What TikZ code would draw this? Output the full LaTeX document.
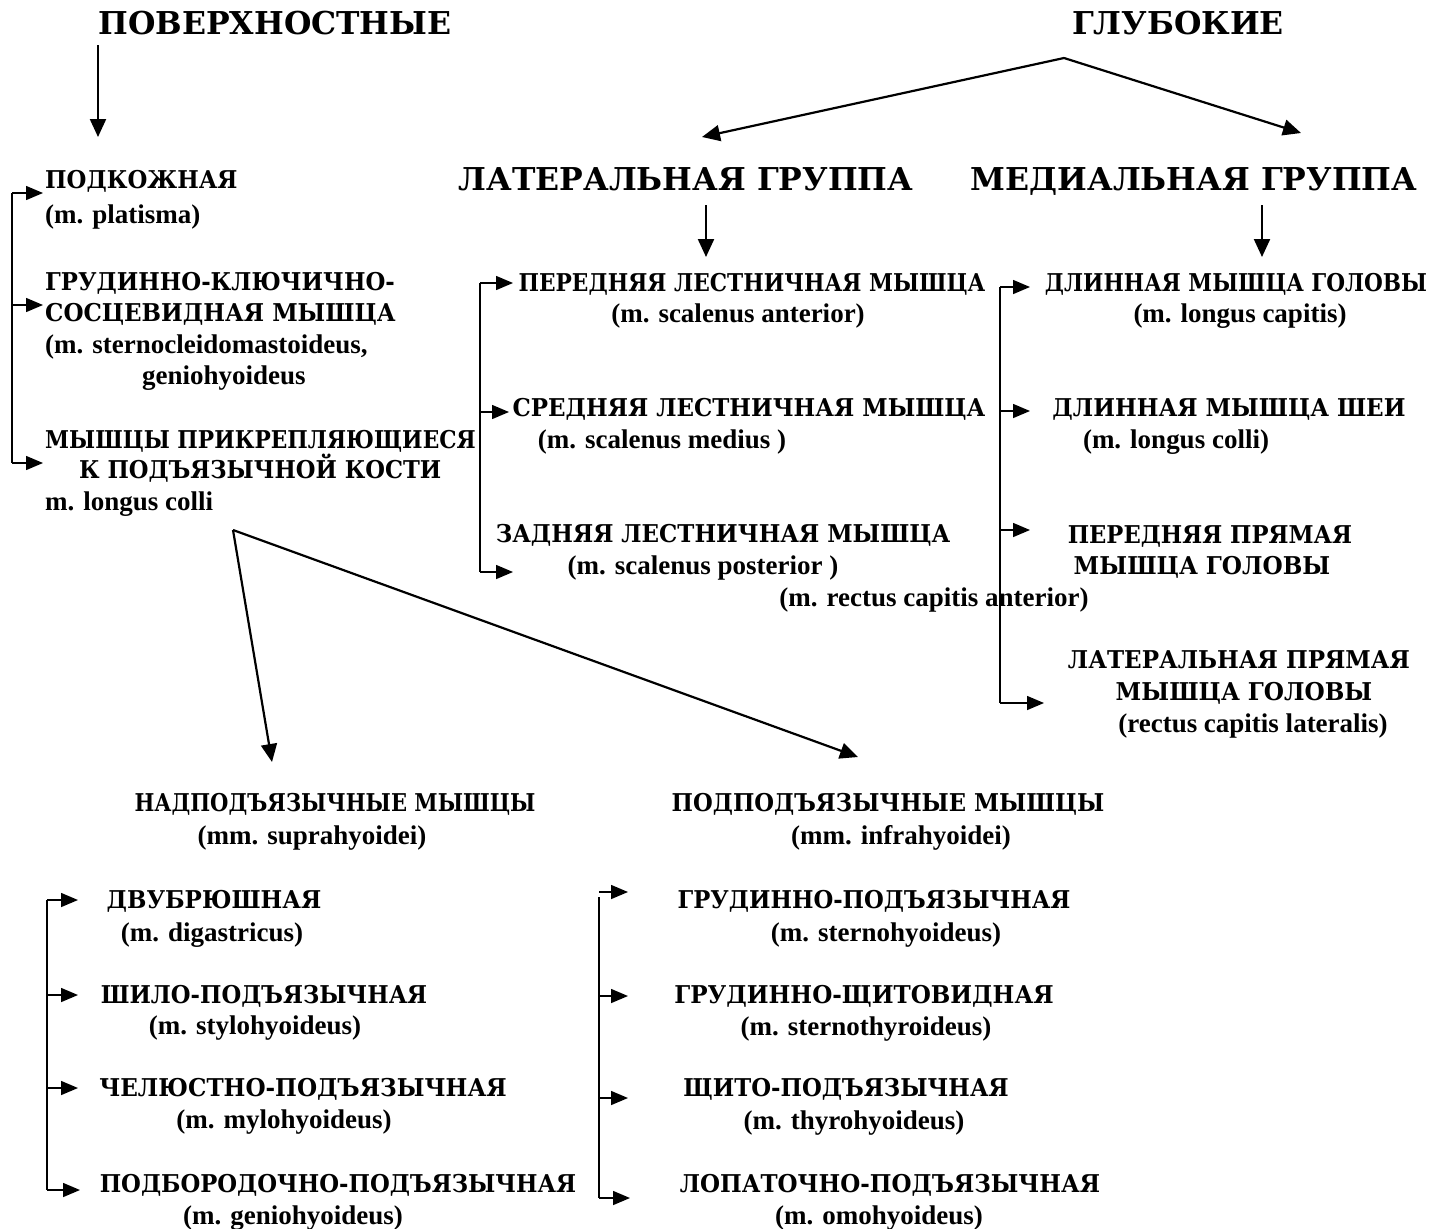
\documentclass[tikz,border=0pt]{standalone}
\usepackage{graphicx}
\usepackage{fontspec}
\setmainfont{Liberation Serif}
\newfontfamily\cyrf{DejaVu Serif}
\usetikzlibrary{arrows.meta}
% Cyrillic lines: taller letters, slightly condensed
\newcommand\cyt[2][0.93]{\scalebox{#1}[1]{#2}}

\begin{document}
\begin{tikzpicture}[x=1pt,y=-1pt,
  hdr/.style={font=\cyrf\fontsize{31.5}{36}\selectfont\bfseries, inner sep=0pt, anchor=base},
  txt/.style={font=\cyrf\fontsize{24.5}{29}\selectfont\bfseries, inner sep=0pt, anchor=base},
  lat/.style={font=\fontsize{27}{30}\selectfont\bfseries, inner sep=0pt, anchor=base},
  txtl/.style={txt, anchor=base west},
  latl/.style={lat, anchor=base west},
  arr/.style={line width=2.2pt, -{Triangle[length=18pt,width=16pt]}},
  brk/.style={line width=1.5pt},
  tip/.style={line width=1.5pt, -{Triangle[length=17pt,width=14pt]}}]

\useasboundingbox[fill=white] (0,0) rectangle (1433,1229);

% ---------- top headings ----------
\node[hdr] (pov) at (275,34) {ПОВЕРХНОСТНЫЕ};
\node[hdr] (glub) at (1178,34) {ГЛУБОКИЕ};
\node[hdr] (lat) at (686,190) {ЛАТЕРАЛЬНАЯ ГРУППА};
\node[hdr] (med) at (1194,190) {МЕДИАЛЬНАЯ ГРУППА};

% ---------- superficial muscles ----------
\node[txtl] (podk1) at (45,188) {\cyt{ПОДКОЖНАЯ}};
\node[latl] (podk2) at (45,223) {(m. platisma)};
\node[txtl] (grud1) at (45,290) {\cyt{ГРУДИННО-КЛЮЧИЧНО-}};
\node[txtl] (grud2) at (45,321) {\cyt[0.94]{СОСЦЕВИДНАЯ МЫШЦА}};
\node[latl] (grud3) at (45,353) {(m. sternocleidomastoideus,};
\node[latl] (grud4) at (142,384) {geniohyoideus};
\node[txtl] (prik1) at (45,448) {\cyt[0.886]{МЫШЦЫ ПРИКРЕПЛЯЮЩИЕСЯ}};
\node[txtl] (prik2) at (79,478) {\cyt[0.923]{К ПОДЪЯЗЫЧНОЙ КОСТИ}};
\node[latl] (prik3) at (45,510) {m. longus colli};

% ---------- lateral group ----------
\node[txt] (pls1) at (752,291) {\cyt[0.886]{ПЕРЕДНЯЯ ЛЕСТНИЧНАЯ МЫШЦА}};
\node[lat] (pls2) at (738,322) {(m. scalenus anterior)};
\node[txt] (sls1) at (749,416) {\cyt[0.937]{СРЕДНЯЯ ЛЕСТНИЧНАЯ МЫШЦА}};
\node[lat] (sls2) at (662,448) {(m. scalenus medius )};
\node[txt] (zls1) at (723,542) {\cyt[0.936]{ЗАДНЯЯ ЛЕСТНИЧНАЯ МЫШЦА}};
\node[lat] (zls2) at (703,574) {(m. scalenus posterior )};
\node[lat] (rca) at (934,606) {(m. rectus capitis anterior)};

% ---------- medial group ----------
\node[txt] (dmg1) at (1236,291) {\cyt[0.88]{ДЛИННАЯ МЫШЦА ГОЛОВЫ}};
\node[lat] (dmg2) at (1240,322) {(m. longus capitis)};
\node[txt] (dms1) at (1229,416) {\cyt[0.94]{ДЛИННАЯ МЫШЦА ШЕИ}};
\node[lat] (dms2) at (1176,448) {(m. longus colli)};
\node[txt] (ppm1) at (1210,543) {\cyt[0.925]{ПЕРЕДНЯЯ ПРЯМАЯ}};
\node[txt] (ppm2) at (1202,574) {\cyt[0.946]{МЫШЦА ГОЛОВЫ}};
\node[txt] (lpm1) at (1239,668) {\cyt[0.94]{ЛАТЕРАЛЬНАЯ ПРЯМАЯ}};
\node[txt] (lpm2) at (1244,700) {\cyt[0.946]{МЫШЦА ГОЛОВЫ}};
\node[lat] (lpm3) at (1253,732) {(rectus capitis lateralis)};

% ---------- hyoid muscle groups ----------
\node[txt] (nad1) at (335,811) {\cyt[0.86]{НАДПОДЪЯЗЫЧНЫЕ МЫШЦЫ}};
\node[lat] (nad2) at (312,844) {(mm. suprahyoidei)};
\node[txt] (pod1) at (888,811) {\cyt[0.925]{ПОДПОДЪЯЗЫЧНЫЕ МЫШЦЫ}};
\node[lat] (pod2) at (901,844) {(mm. infrahyoidei)};

\node[txt] (dv1) at (214,908) {\cyt[0.937]{ДВУБРЮШНАЯ}};
\node[lat] (dv2) at (212,941) {(m. digastricus)};
\node[txt] (sh1) at (264,1003) {\cyt[0.925]{ШИЛО-ПОДЪЯЗЫЧНАЯ}};
\node[lat] (sh2) at (255,1034) {(m. stylohyoideus)};
\node[txt] (ch1) at (303,1096) {\cyt[0.943]{ЧЕЛЮСТНО-ПОДЪЯЗЫЧНАЯ}};
\node[lat] (ch2) at (284,1128) {(m. mylohyoideus)};
\node[txt] (pb1) at (338,1192) {\cyt[0.927]{ПОДБОРОДОЧНО-ПОДЪЯЗЫЧНАЯ}};
\node[lat] (pb2) at (293,1224) {(m. geniohyoideus)};

\node[txt] (gp1) at (874,908) {\cyt[0.927]{ГРУДИННО-ПОДЪЯЗЫЧНАЯ}};
\node[lat] (gp2) at (886,941) {(m. sternohyoideus)};
\node[txt] (gs1) at (864,1003) {\cyt[0.942]{ГРУДИННО-ЩИТОВИДНАЯ}};
\node[lat] (gs2) at (866,1035) {(m. sternothyroideus)};
\node[txt] (sp1) at (846,1096) {\cyt[0.929]{ЩИТО-ПОДЪЯЗЫЧНАЯ}};
\node[lat] (sp2) at (854,1129) {(m. thyrohyoideus)};
\node[txt] (lo1) at (890,1192) {\cyt[0.938]{ЛОПАТОЧНО-ПОДЪЯЗЫЧНАЯ}};
\node[lat] (lo2) at (879,1224) {(m. omohyoideus)};

% ---------- main arrows ----------
\coordinate (povA) at (98,45);
\coordinate (povB) at (98,137);
\draw[arr] (povA) -- (povB);

\coordinate (glA) at (1064,58);
\coordinate (glL) at (702,137);
\coordinate (glR) at (1301,133);
\draw[arr] (glA) -- (glL);
\draw[arr] (glA) -- (glR);

\coordinate (latA) at (706,205);
\coordinate (latB) at (706,257);
\draw[arr] (latA) -- (latB);
\coordinate (medA) at (1262,205);
\coordinate (medB) at (1262,257);
\draw[arr] (medA) -- (medB);

\coordinate (hyA) at (233,530);
\coordinate (hyL) at (272,762);
\coordinate (hyR) at (858,757);
\draw[arr] (hyA) -- (hyL);
\draw[arr] (hyA) -- (hyR);

% ---------- bracket: superficial ----------
\coordinate (b1a) at (12,193);
\coordinate (b1b) at (12,305);
\coordinate (b1c) at (12,463);
\draw[brk] (b1a) -- (b1c);
\draw[tip] (b1a) -- (43,193);
\draw[tip] (b1b) -- (43,305);
\draw[tip] (b1c) -- (43,463);

% ---------- bracket: lateral ----------
\coordinate (b2a) at (480,283);
\coordinate (b2b) at (480,412);
\coordinate (b2c) at (480,572);
\draw[brk] (b2a) -- (b2c);
\draw[tip] (b2a) -- (513,283);
\draw[tip] (b2b) -- (509,412);
\draw[tip] (b2c) -- (513,572);

% ---------- bracket: medial ----------
\coordinate (b3a) at (1000,287);
\coordinate (b3b) at (1000,411);
\coordinate (b3c) at (1000,530);
\coordinate (b3d) at (1000,703);
\draw[brk] (b3a) -- (b3d);
\draw[tip] (b3a) -- (1030,287);
\draw[tip] (b3b) -- (1030,411);
\draw[tip] (b3c) -- (1030,530);
\draw[tip] (b3d) -- (1044,703);

% ---------- bracket: suprahyoid ----------
\coordinate (b4a) at (47,900);
\coordinate (b4b) at (47,995);
\coordinate (b4c) at (47,1088);
\coordinate (b4d) at (47,1190);
\draw[brk] (b4a) -- (b4d);
\draw[tip] (b4a) -- (78,900);
\draw[tip] (b4b) -- (78,995);
\draw[tip] (b4c) -- (78,1088);
\draw[tip] (b4d) -- (80,1190);

% ---------- bracket: infrahyoid ----------
\coordinate (b5a) at (599,897);
\coordinate (b5b) at (599,996);
\coordinate (b5c) at (599,1098);
\coordinate (b5d) at (599,1198);
\draw[brk] (b5a) -- (b5d);
\draw[tip] (599,892) -- (628,892);
\draw[tip] (b5b) -- (628,996);
\draw[tip] (b5c) -- (628,1098);
\draw[tip] (b5d) -- (630,1198);
\end{tikzpicture}
\end{document}
